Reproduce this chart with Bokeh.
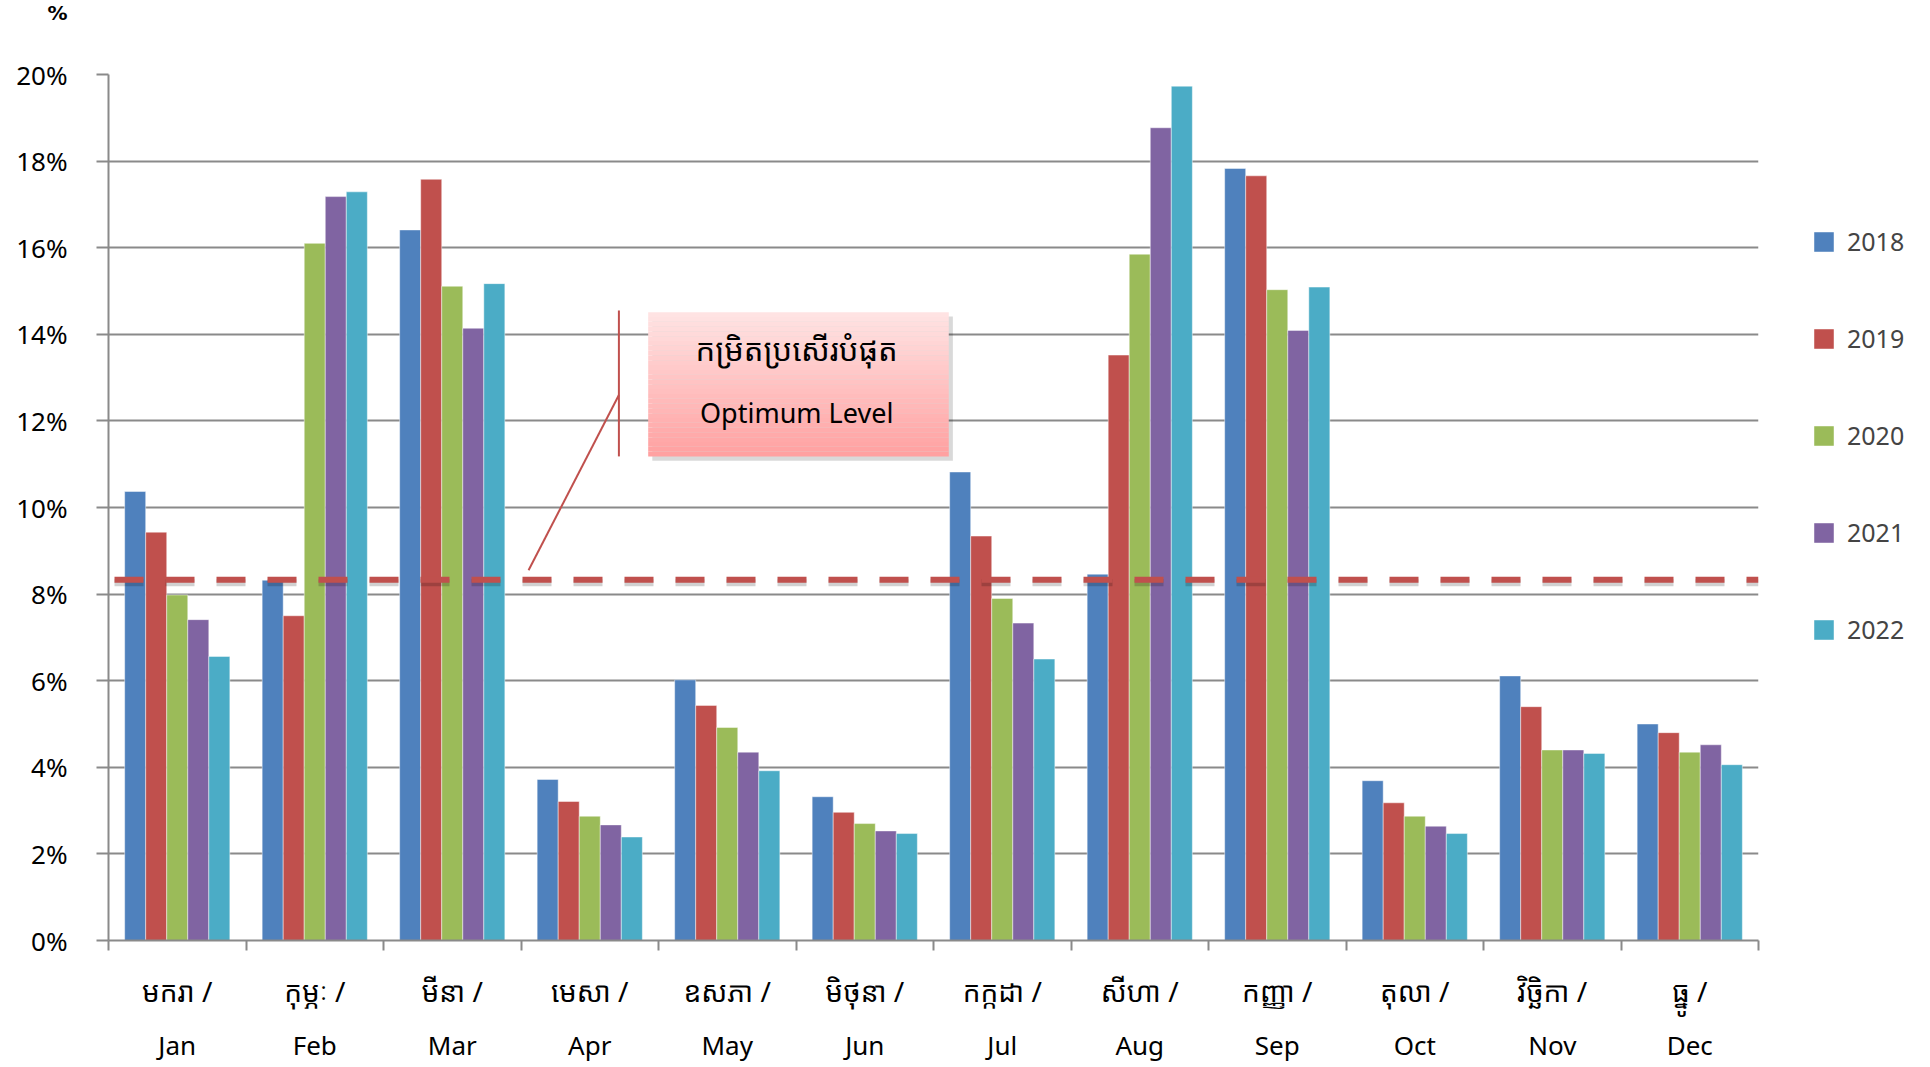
import numpy as np
from bokeh.plotting import figure
from bokeh.models import (Range1d, FixedTicker, LinearAxis, Span, BoxAnnotation, Label,
                          Legend, LegendItem, ColumnDataSource, PrintfTickFormatter, Title, Grid)
from bokeh.embed import file_html
from bokeh.resources import INLINE

# ---------------- data ----------------
months_km = ["មករា /", "កុម្ភៈ /", "មីនា /", "មេសា /", "ឧសភា /", "មិថុនា /",
             "កក្កដា /", "សីហា /", "កញ្ញា /", "តុលា /", "វិច្ឆិកា /", "ធ្នូ /"]
months_en = ["Jan", "Feb", "Mar", "Apr", "May", "Jun",
             "Jul", "Aug", "Sep", "Oct", "Nov", "Dec"]
years = ["2018", "2019", "2020", "2021", "2022"]

v2018 = [10.37, 8.32, 16.41, 3.72, 6.02, 3.32, 10.82, 8.46, 17.83, 3.69, 6.11, 5.00]
v2019 = [9.43, 7.50, 17.58, 3.21, 5.43, 2.96, 9.34, 13.52, 17.66, 3.18, 5.40, 4.80]
v2020 = [7.98, 16.10, 15.11, 2.87, 4.92, 2.70, 7.90, 15.85, 15.03, 2.87, 4.40, 4.35]
v2021 = [7.41, 17.18, 14.14, 2.67, 4.35, 2.53, 7.33, 18.77, 14.09, 2.64, 4.40, 4.52]
v2022 = [6.56, 17.29, 15.17, 2.39, 3.92, 2.47, 6.50, 19.73, 15.09, 2.47, 4.32, 4.06]
series = [v2018, v2019, v2020, v2021, v2022]

y_ticks = [0, 2, 4, 6, 8, 10, 12, 14, 16, 18, 20]
optimum_level = 8.33
annotation_km = "កម្រិតប្រសើរបំផុត"
annotation_en = "Optimum Level"
unit_label = "%"

# ---------------- style ----------------
colors = ["#4F81BD", "#C0504D", "#9BBB59", "#8064A2", "#4BACC6"]
GRAY = "#8A8A8A"
RED = "#C0504D"
LATIN = "Noto Sans"
KHMER = "'Noto Sans Khmer', 'Khmer OS Battambang', 'Khmer OS', 'Noto Sans'"
BAR_W = 0.153
n_cat = len(months_en)

p = figure(frame_width=1650, frame_height=866,
           x_range=Range1d(0, n_cat), y_range=Range1d(0, 20),
           output_backend="svg", toolbar_location=None,
           x_axis_location=None, y_axis_location=None,
           min_border_left=108, min_border_top=72, min_border_right=150, min_border_bottom=122)
p.outline_line_color = None
p.background_fill_color = "white"
p.border_fill_color = "white"
p.center = []  # drop default grids

# title "%" (extra blank lines keep it high above the frame)
p.add_layout(Title(text=unit_label + "\n \n ", align="left", offset=-61, standoff=0,
                   vertical_align="top",
                   text_font="DejaVu Sans", text_font_size="20px", text_font_style="bold",
                   text_color="black"), "above")

# y axis
yax = LinearAxis(ticker=FixedTicker(ticks=y_ticks), formatter=PrintfTickFormatter(format="%d%%"),
                 axis_line_color=GRAY, axis_line_width=2,
                 major_tick_out=12, major_tick_in=0, major_tick_line_color=GRAY, major_tick_line_width=2,
                 minor_tick_line_color=None, major_label_standoff=29,
                 major_label_text_font=LATIN, major_label_text_font_size="26px",
                 major_label_text_color="black")
p.add_layout(yax, "left")
p.add_layout(Grid(dimension=1, ticker=yax.ticker, grid_line_color=GRAY, grid_line_width=2))

# x axes: boundary ticks, Khmer labels, English labels
bounds = list(range(n_cat + 1))
centers = [i + 0.5 for i in range(n_cat)]
xa = LinearAxis(ticker=FixedTicker(ticks=bounds),
                major_label_overrides={b: "" for b in bounds},
                axis_line_color=GRAY, axis_line_width=2,
                major_tick_out=10, major_tick_in=0, major_tick_line_color=GRAY, major_tick_line_width=2,
                minor_tick_line_color=None, major_label_standoff=0,
                major_label_text_font_size="1px")
xb = LinearAxis(ticker=FixedTicker(ticks=centers),
                major_label_overrides={c: t for c, t in zip(centers, months_km)},
                axis_line_color=None, major_tick_line_color=None, minor_tick_line_color=None,
                major_tick_out=0, major_tick_in=0, major_label_standoff=21,
                major_label_text_font=KHMER, major_label_text_font_size="28px",
                major_label_text_color="black")
xc = LinearAxis(ticker=FixedTicker(ticks=centers),
                major_label_overrides={c: t for c, t in zip(centers, months_en)},
                axis_line_color=None, major_tick_line_color=None, minor_tick_line_color=None,
                major_tick_out=0, major_tick_in=0, major_label_standoff=14,
                major_label_text_font=LATIN, major_label_text_font_size="26px",
                major_label_text_color="black")
p.add_layout(xa, "below")
p.add_layout(xb, "below")
p.add_layout(xc, "below")

# bars
items = []
for j, (yr, vals, col) in enumerate(zip(years, series, colors)):
    xs = [i + 0.5 + (j - 2) * BAR_W for i in range(n_cat)]
    src = ColumnDataSource(dict(x=xs, top=vals))
    r = p.vbar(x="x", top="top", bottom=0, width=BAR_W, source=src,
               fill_color=col, line_color="white", line_alpha=0.45, line_width=1)
    items.append(LegendItem(label=yr, renderers=[r]))

# optimum level dashed line (with shadow)
p.add_layout(Span(location=optimum_level - 0.07, dimension="width", line_color="#000000",
                  line_alpha=0.18, line_width=7, line_dash="29 22", line_dash_offset=45))
p.add_layout(Span(location=optimum_level, dimension="width", line_color=RED,
                  line_width=6, line_dash="29 22", line_dash_offset=45))

# callout
bx0, bx1, by0, by1 = 3.925, 6.111, 11.18, 14.51
p.add_layout(BoxAnnotation(left=bx0 + 0.03, right=bx1 + 0.03, bottom=by0 - 0.1, top=by1 - 0.1,
                           fill_color="#000000", fill_alpha=0.15, line_color=None))
nstrip = 30
for k in range(nstrip):
    t = (k + 0.5) / nstrip
    gg = int(round(228 - (228 - 160) * t))
    ytop = by1 - (by1 - by0) * k / nstrip
    ybot = by1 - (by1 - by0) * (k + 1) / nstrip
    p.add_layout(BoxAnnotation(left=bx0, right=bx1, bottom=ybot, top=ytop,
                               fill_color=f"#ff{gg:02x}{gg:02x}", fill_alpha=1.0,
                               line_color=None))
p.segment(x0=[3.712, 3.712], y0=[14.55, 12.60], x1=[3.712, 3.055], y1=[11.18, 8.55],
          line_color=RED, line_width=2)
p.add_layout(Label(x=5.005, y=13.67, text=annotation_km, text_align="center",
                   text_baseline="middle", text_font=KHMER, text_font_size="31px",
                   text_color="black"))
p.add_layout(Label(x=5.005, y=12.2, text=annotation_en, text_align="center",
                   text_baseline="middle", text_font=LATIN, text_font_size="27px",
                   text_color="black"))

# legend
legend = Legend(items=items, location=(53, 294), orientation="vertical",
                glyph_width=25, glyph_height=25, label_height=25, spacing=63,
                padding=0, margin=0, border_line_color=None, background_fill_alpha=0,
                label_text_font=LATIN, label_text_font_size="25px", label_standoff=11)
p.add_layout(legend, "right")

open("out.html", "w").write(file_html(p, INLINE))
